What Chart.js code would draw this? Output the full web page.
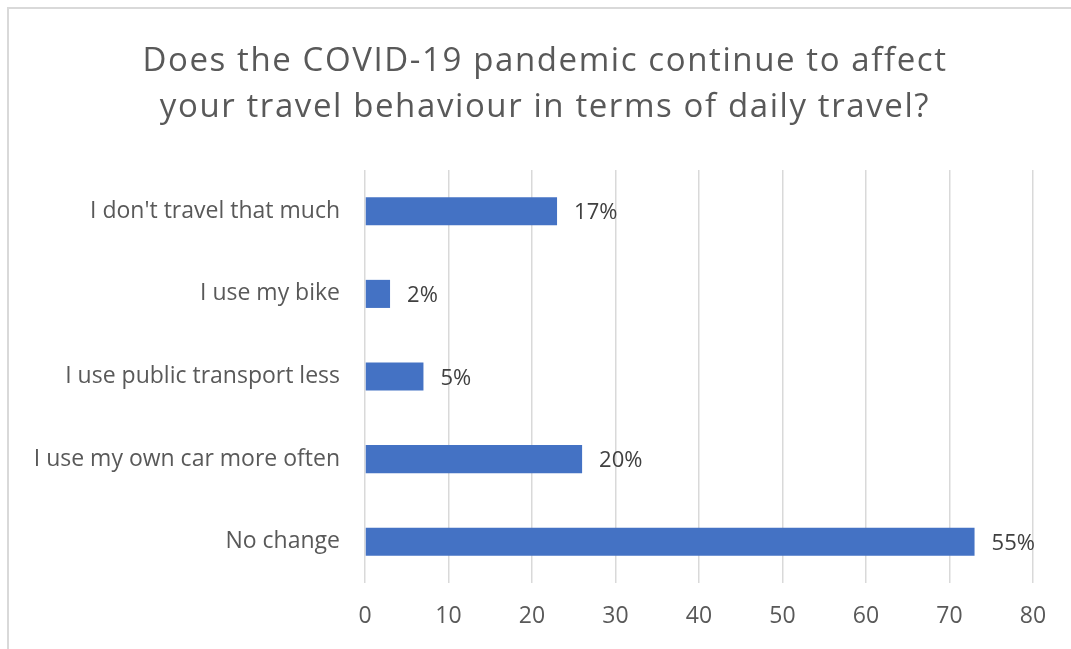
<!DOCTYPE html>
<html>
<head>
<meta charset="utf-8">
<script src="https://cdn.jsdelivr.net/npm/chart.js@4"></script>
<style>
  html, body { margin: 0; padding: 0; background: #fff; }
  #wrap { position: relative; width: 1071px; height: 649px; overflow: hidden; }
  #frame { position: absolute; left: 7px; top: 7px; width: 1080px; height: 660px; border: 2px solid #d9d9d9; box-sizing: border-box; }
  canvas { position: absolute; left: 0; top: 0; }
</style>
</head>
<body>
<div id="wrap">
  <div id="frame"></div>
  <canvas id="c" width="1071" height="649"></canvas>
</div>
<script>
const titleLines = ["Does the COVID-19 pandemic continue to affect", "your travel behaviour in terms of daily travel?"];
const categories = ["I don't travel that much", "I use my bike", "I use public transport less", "I use my own car more often", "No change"];
const values = [23, 3, 7, 26, 73];
const valueLabels = ["17%", "2%", "5%", "20%", "55%"];
const xTicks = [0, 10, 20, 30, 40, 50, 60, 70, 80];

const FONT = "'Open Sans', Lato, sans-serif";

const barLabels = {
  id: 'barLabels',
  afterDatasetsDraw(chart) {
    const ctx = chart.ctx;
    const meta = chart.getDatasetMeta(0);
    ctx.save();
    ctx.font = "22px " + FONT;
    ctx.fillStyle = "#404040";
    ctx.textAlign = "left";
    ctx.textBaseline = "alphabetic";
    meta.data.forEach((bar, i) => {
      ctx.fillText(valueLabels[i], bar.x + 17, bar.y + 8);
    });
    ctx.restore();
  }
};

const titleDraw = {
  id: 'titleDraw',
  afterDraw(chart) {
    const ctx = chart.ctx;
    ctx.save();
    ctx.font = "33px " + FONT;
    ctx.fillStyle = "#595959";
    ctx.textAlign = "center";
    ctx.textBaseline = "alphabetic";
    if ('letterSpacing' in ctx) ctx.letterSpacing = '1.6px';
    ctx.fillText(titleLines[0], 545, 71);
    ctx.fillText(titleLines[1], 545, 117);
    ctx.restore();
  }
};

new Chart(document.getElementById('c'), {
  type: 'bar',
  data: {
    labels: categories,
    datasets: [{
      data: values,
      backgroundColor: '#4472c4',
      borderWidth: 0,
      barPercentage: 0.34,
      categoryPercentage: 1.0
    }]
  },
  options: {
    indexAxis: 'y',
    responsive: false,
    animation: false,
    layout: { padding: { left: 10, right: 38, top: 170, bottom: 0 } },
    plugins: {
      legend: { display: false },
      tooltip: { enabled: false },
      title: { display: false }
    },
    scales: {
      x: {
        type: 'linear',
        min: 0, max: 80,
        afterBuildTicks(scale) { scale.ticks = xTicks.map(v => ({ value: v })); },
        afterFit(scale) { scale.height = 649 - 583; },
        grid: { color: '#d9d9d9', lineWidth: 1.5, drawTicks: false },
        border: { display: false },
        ticks: { color: '#595959', font: { family: FONT, size: 23 }, padding: 20 }
      },
      y: {
        afterFit(scale) { scale.width = 365 - 10; },
        grid: { display: false, drawTicks: false },
        border: { display: false },
        ticks: { color: '#595959', font: { family: FONT, size: 23 }, padding: 25 }
      }
    }
  },
  plugins: [barLabels, titleDraw]
});
</script>
</body>
</html>
